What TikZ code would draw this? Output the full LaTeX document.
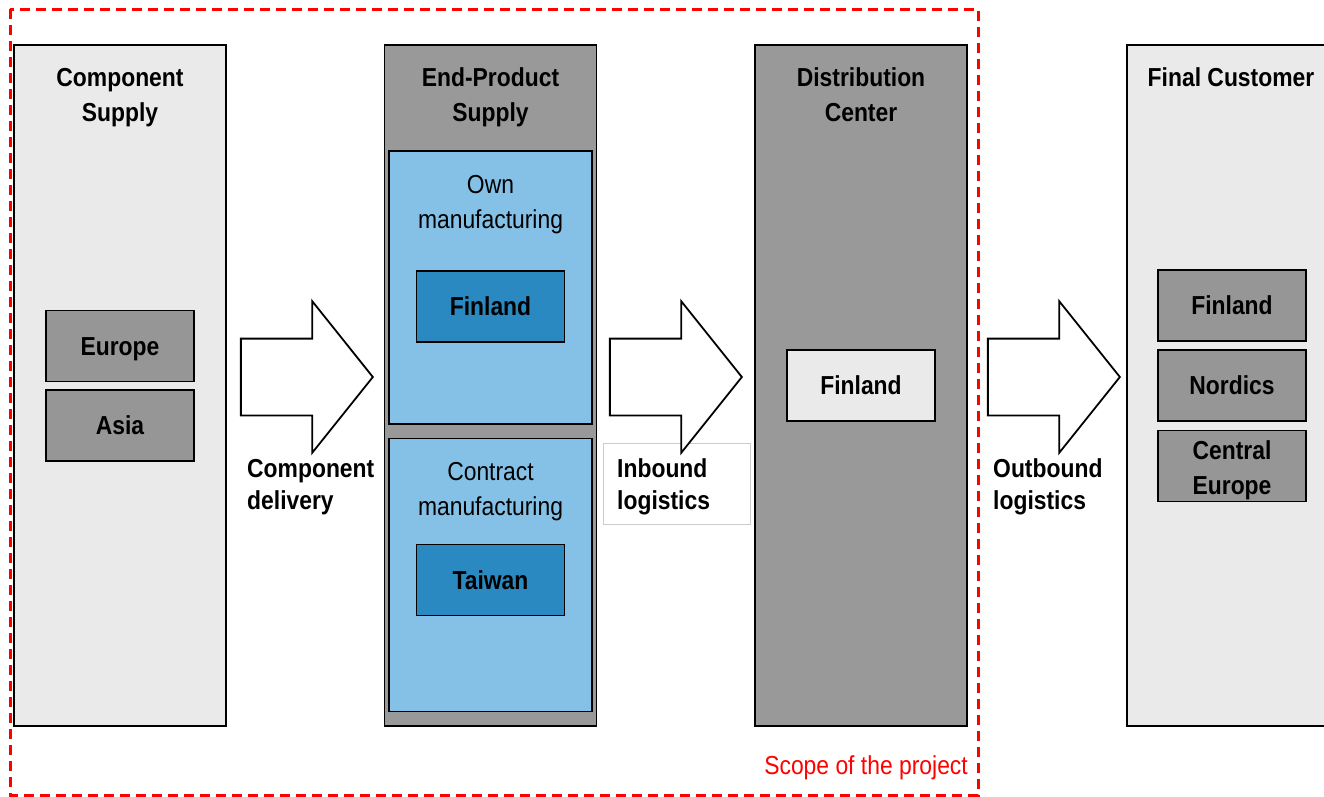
\documentclass[tikz,border=0pt]{standalone}
\usepackage{fontspec}
\setmainfont[FakeStretch=0.88]{Liberation Sans}
\usetikzlibrary{shapes.arrows}

\definecolor{panelLight}{HTML}{EAEAEA}
\definecolor{panelDark}{HTML}{999999}
\definecolor{boxGray}{HTML}{969696}
\definecolor{blueLight}{HTML}{85C1E6}
\definecolor{blueDark}{HTML}{2A89C0}
\definecolor{scopeRed}{HTML}{FF0000}

\tikzset{
  panel/.style={draw=black, line width=1.8pt, minimum width=212, minimum height=681, inner sep=0pt},
  subpanel/.style={draw=black, line width=1.8pt, fill=blueLight, minimum width=203, minimum height=273, inner sep=0pt},
  sitebox/.style={draw=black, line width=1.8pt, minimum width=148, minimum height=71, inner sep=0pt,
    align=center, font=\bfseries\fontsize{26}{35}\selectfont},
  site/.style={sitebox, text height=18.6pt, text depth=0pt},
  title/.style={align=center, font=\bfseries\fontsize{26}{35}\selectfont},
  plain/.style={align=center, font=\fontsize{26}{35}\selectfont},
  flowlabel/.style={align=left, anchor=west, inner sep=0pt, font=\bfseries\fontsize{26}{32}\selectfont},
  blockarrow/.style={single arrow, draw=black, fill=white, line width=1.8pt, inner sep=0pt,
    inner ysep=37.5pt, minimum height=132, single arrow head extend=37.5,
    single arrow tip angle=102.7, single arrow head indent=0pt, anchor=tip}
}

\begin{document}
\begin{tikzpicture}[x=1pt,y=-1pt]
  \clip (0,0) rectangle (1324,796);
  \fill [white] (0,0) rectangle (1324,796);

  % supply side panels
  \node [panel, fill=panelLight] (compSupply) at (120,385.5) {};
  \node [title] (compTitle) at (120,97.5) {Component\\Supply};
  \node [site, fill=boxGray] (europe) at (120,346) {Europe};
  \node [site, fill=boxGray] (asia) at (120,425.5) {Asia};

  \node [panel, fill=panelDark] (endSupply) at (490.5,385.5) {};
  \node [title] (endTitle) at (490.5,97.5) {End-Product\\Supply};
  \node [subpanel] (ownMan) at (490.5,287.5) {};
  \node [plain] (ownTitle) at (490.5,204.5) {Own\\manufacturing};
  \node [site, fill=blueDark] (ownFin) at (490.5,306.5) {Finland};
  \node [subpanel] (conMan) at (490.5,575) {};
  \node [plain] (conTitle) at (490.5,492) {Contract\\manufacturing};
  \node [site, fill=blueDark] (conTai) at (490.5,580) {Taiwan};

  \node [panel, fill=panelDark] (distCenter) at (861,385.5) {};
  \node [title] (distTitle) at (861,94.5) {Distribution\\Center};
  \node [site, fill=panelLight] (distFin) at (861,385.5) {Finland};

  \node [panel, fill=panelLight, minimum width=220, anchor=west] (finalCust) at (1126,385.5) {};
  \node [title] (finalTitle) at (1231,77) {Final Customer};
  \node [site, fill=boxGray] (custFin) at (1232,305.5) {Finland};
  \node [site, fill=boxGray] (custNor) at (1232,385.5) {Nordics};
  \node [sitebox, fill=boxGray] (custCE) at (1232,466) {};
  \node [title] (custCEText) at (1232,470) {Central\\Europe};

  % flows between the panels
  \node [draw=black!20, fill=white, line width=1pt, minimum width=147, minimum height=81,
    inner sep=0pt] (inBox) at (676.5,483.5) {};
  \node [blockarrow] (compArrow) at (374,377) {};
  \node [blockarrow] (inArrow) at (743,377) {};
  \node [blockarrow] (outArrow) at (1121,377) {};
  \node [flowlabel] (compLabel) at (247,487) {Component\\delivery};
  \node [flowlabel] (inLabel) at (617,487) {Inbound\\logistics};
  \node [flowlabel] (outLabel) at (993,487) {Outbound\\logistics};

  % project scope
  \draw [scopeRed, line width=3pt, dash pattern=on 10pt off 6pt] (10,9) rectangle (978,795);
  \node [anchor=east, text=scopeRed, inner sep=0pt, font=\fontsize{26}{30}\selectfont]
    (scope) at (968,768) {Scope of the project};
\end{tikzpicture}
\end{document}
